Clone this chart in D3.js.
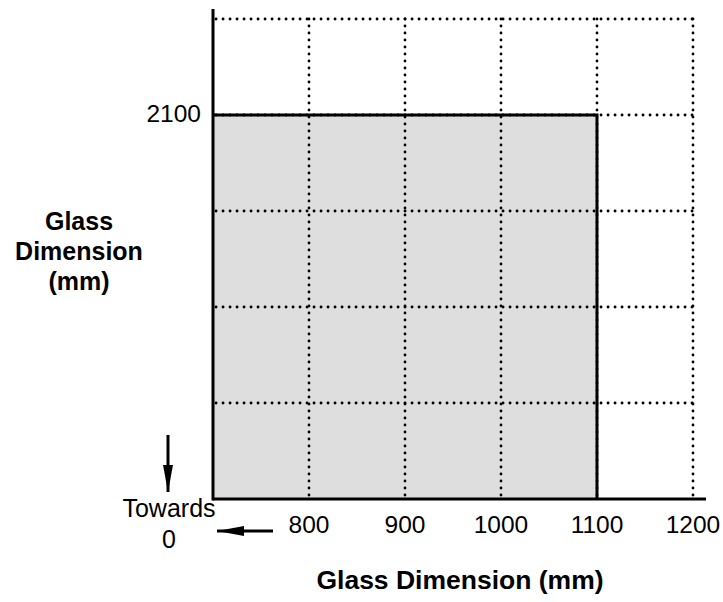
<!DOCTYPE html>
<html>
<head>
<meta charset="utf-8">
<script src="https://cdn.jsdelivr.net/npm/d3@7"></script>
<style>
  html, body { margin: 0; padding: 0; background: #fff; }
  svg { display: block; }
  text { font-family: "Liberation Sans", Arial, Helvetica, sans-serif; fill: #000; }
</style>
</head>
<body>
<svg id="chart" width="723" height="602"></svg>
<script>
// ---- data ----
const xDomain = [700, 1200];
const yDomain = [1700, 2200];
const xTickValues = [800, 900, 1000, 1100, 1200];
const yGridValues = [1800, 1900, 2000, 2100, 2200];
const yTickLabels = [2100];
const glassMaxWidth = [1100];
const glassMaxHeight = [2100];
const xTitle = "Glass Dimension (mm)";
const yTitleLines = ["Glass", "Dimension", "(mm)"];
const originNote = ["Towards", "0"];

// ---- layout ----
const svg = d3.select("#chart");
const x = d3.scaleLinear().domain(xDomain).range([213, 693]);
const y = d3.scaleLinear().domain(yDomain).range([499, 19]);
const x0 = x(xDomain[0]), y0 = y(yDomain[0]);

svg.append("defs").append("marker")
  .attr("id", "ah").attr("viewBox", "0 0 10 10").attr("refX", 10).attr("refY", 5)
  .attr("markerUnits", "userSpaceOnUse").attr("markerWidth", 27).attr("markerHeight", 10)
  .attr("orient", "auto").attr("preserveAspectRatio", "none")
  .append("path").attr("d", "M0,0 L10,5 L0,10 Z").attr("fill", "#000");

// glass area
svg.append("rect")
  .attr("x", x0).attr("y", y(glassMaxHeight[0]))
  .attr("width", x(glassMaxWidth[0]) - x0)
  .attr("height", y0 - y(glassMaxHeight[0]))
  .attr("fill", "#dedede");

// dotted grid
const dot = sel => sel.attr("stroke", "#000").attr("stroke-width", 2.8)
  .attr("stroke-dasharray", "0.1,6.9").attr("stroke-linecap", "round").attr("fill", "none");
svg.append("g").selectAll("line").data(xTickValues).join("line")
  .attr("x1", d => x(d)).attr("x2", d => x(d))
  .attr("y1", y(yDomain[1])).attr("y2", y0).call(dot);
svg.append("g").selectAll("line").data(yGridValues).join("line")
  .attr("x1", x0 + 3).attr("x2", x(xDomain[1]))
  .attr("y1", d => y(d)).attr("y2", d => y(d)).call(dot);

// glass outline (top and right)
svg.append("path")
  .attr("d", `M${x0},${y(glassMaxHeight[0])} H${x(glassMaxWidth[0])} V${y0}`)
  .attr("fill", "none").attr("stroke", "#000").attr("stroke-width", 3);

// axes lines
svg.append("line").attr("x1", x0).attr("x2", x0).attr("y1", 9).attr("y2", y0 + 1.5)
  .attr("stroke", "#000").attr("stroke-width", 3);
svg.append("line").attr("x1", x0).attr("x2", x(xDomain[1]) + 13).attr("y1", y0).attr("y2", y0)
  .attr("stroke", "#000").attr("stroke-width", 3);

// x tick labels
svg.append("g").selectAll("text").data(xTickValues).join("text")
  .attr("x", d => x(d)).attr("y", y0 + 34)
  .attr("text-anchor", "middle").attr("font-size", 24.5)
  .text(d => d);

// y tick labels
svg.append("g").selectAll("text").data(yTickLabels).join("text")
  .attr("x", x0 - 12).attr("y", d => y(d) + 7)
  .attr("text-anchor", "end").attr("font-size", 24.5)
  .text(d => d);

// titles
svg.append("text").attr("x", 460).attr("y", 589)
  .attr("text-anchor", "middle").attr("font-size", 26.5).attr("font-weight", "bold")
  .text(xTitle);
svg.append("g").selectAll("text").data(yTitleLines).join("text")
  .attr("x", 79).attr("y", (d, i) => 230 + i * 30)
  .attr("text-anchor", "middle").attr("font-size", 25).attr("font-weight", "bold")
  .text(d => d);

// "Towards 0" note and arrows
svg.append("g").selectAll("text").data(originNote).join("text")
  .attr("x", x0 - 44).attr("y", (d, i) => y0 + 18 + i * 31)
  .attr("text-anchor", "middle").attr("font-size", 25)
  .text(d => d);
svg.append("line").attr("x1", x0 - 45).attr("x2", x0 - 45).attr("y1", y0 - 64).attr("y2", y0 - 7)
  .attr("stroke", "#000").attr("stroke-width", 3).attr("marker-end", "url(#ah)");
svg.append("line").attr("x1", x0 + 60).attr("x2", x0 + 4).attr("y1", y0 + 32).attr("y2", y0 + 32)
  .attr("stroke", "#000").attr("stroke-width", 3).attr("marker-end", "url(#ah)");
</script>
</body>
</html>
